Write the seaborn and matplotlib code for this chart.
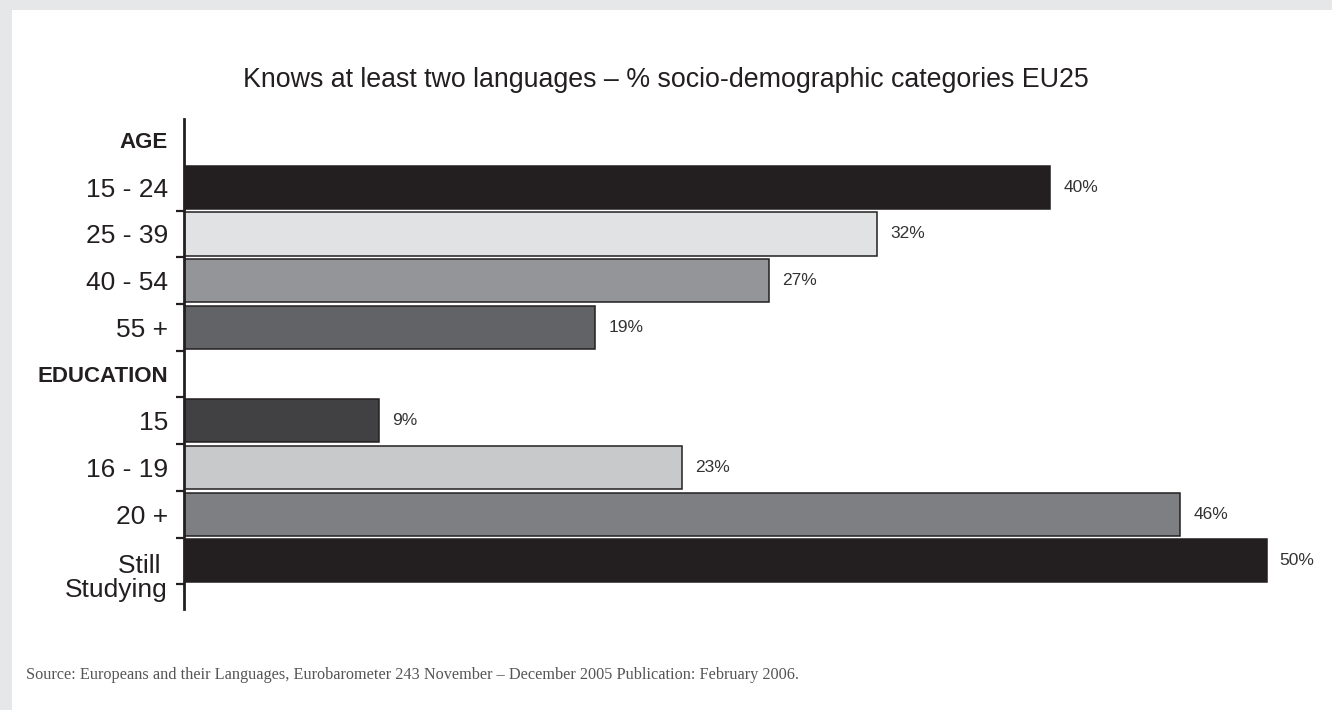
import matplotlib
matplotlib.use("Agg")
import matplotlib.pyplot as plt
import matplotlib.patches as mpatches
from matplotlib import font_manager
import seaborn as sns
import pandas as pd
import numpy as np

# ---- data ----
categories = ["AGE", "15 - 24", "25 - 39", "40 - 54", "55 +",
              "EDUCATION", "15", "16 - 19", "20 +", "Still Studying"]
headers = ["AGE", "EDUCATION"]
bar_categories = ["15 - 24", "25 - 39", "40 - 54", "55 +", "15", "16 - 19", "20 +", "Still Studying"]
values = [40, 32, 27, 19, 9, 23, 46, 50]
bar_colors = ["#231f20", "#e1e2e3", "#939598", "#626366",
              "#414042", "#c8c9cb", "#7e7f83", "#231f20"]
title = "Knows at least two languages \u2013 % socio-demographic categories EU25"
source = ("Source: Europeans and their Languages, Eurobarometer 243 November \u2013 "
          "December 2005 Publication: February 2006.")

sns.set_theme(style="white")
avail = {f.name for f in font_manager.fontManager.ttflist}
has_narrow = "Liberation Sans Narrow" in avail
narrow = "Liberation Sans Narrow" if has_narrow else "Liberation Sans"
plt.rcParams["font.family"] = ["Liberation Sans", "DejaVu Sans"]

W, H = 1332, 710
fig = plt.figure(figsize=(W / 100, H / 100), dpi=100, facecolor="#e6e7e8")
fig.patches.append(mpatches.Rectangle((12 / W, 0), 1 - 12 / W, 1 - 10 / H,
                                      transform=fig.transFigure, facecolor="white",
                                      edgecolor="none", zorder=-10))

ax_left, ax_right = 184, 1310
ax_top, ax_bot = 119, 609
ax = fig.add_axes([ax_left / W, 1 - ax_bot / H, (ax_right - ax_left) / W, (ax_bot - ax_top) / H])
ax.set_facecolor("none")
ax.set_zorder(5)

df = pd.DataFrame({"cat": bar_categories, "val": values})
palette = dict(zip(bar_categories, bar_colors))
sns.barplot(data=df, x="val", y="cat", hue="cat", order=categories, palette=palette,
            orient="h", width=0.925, edgecolor="#231f20", linewidth=1.1,
            legend=False, ax=ax, saturation=1)

dark = "#231f20"
ax.set_xlim(0, 52)
ax.set_ylim(10.03, -0.46)
ax.set_xlabel("")
ax.set_ylabel("")
ax.set_xticks([])
for s in ["top", "right", "bottom"]:
    ax.spines[s].set_visible(False)
ax.spines["left"].set_color(dark)
ax.spines["left"].set_linewidth(2)

# labels
ax.set_yticks(range(len(categories)))
labels = [c if c != "Still Studying" else "" for c in categories]
ax.set_yticklabels(labels)
ax.tick_params(axis="y", which="major", length=0, pad=11.5, labelsize=19, labelcolor=dark)
for lbl in ax.get_yticklabels():
    if lbl.get_text() in headers:
        lbl.set_fontweight("bold")
        lbl.set_fontfamily([narrow, "DejaVu Sans"])
        if not has_narrow:
            lbl.set_fontsize(16)
ax.set_yticks(np.arange(1.5, 10, 1.0), minor=True)
ax.tick_params(axis="y", which="minor", length=6, width=1.6, color=dark, left=True)

ax.annotate("Still \nStudying", xy=(0, 9.37), xycoords=("axes fraction", "data"),
            xytext=(-11.5, 0), textcoords="offset points", ha="right", va="center",
            multialignment="right", fontsize=19, color=dark, linespacing=1.0)

# value labels
for c, v in zip(bar_categories, values):
    ax.annotate(f"{v}%", xy=(v, categories.index(c)), xytext=(9.4, 0),
                textcoords="offset points", va="center", ha="left",
                fontsize=12.5, color="#333333")

fig.text(0.5, 1 - 80 / H, title, ha="center", va="center", fontsize=19.3, color=dark)
fig.text(26 / W, 1 - 675 / H, source, ha="left", va="center", fontsize=11.7,
         color="#555555", family=["Liberation Serif", "DejaVu Serif"])

fig.savefig("out.png", dpi=100, facecolor=fig.get_facecolor())
